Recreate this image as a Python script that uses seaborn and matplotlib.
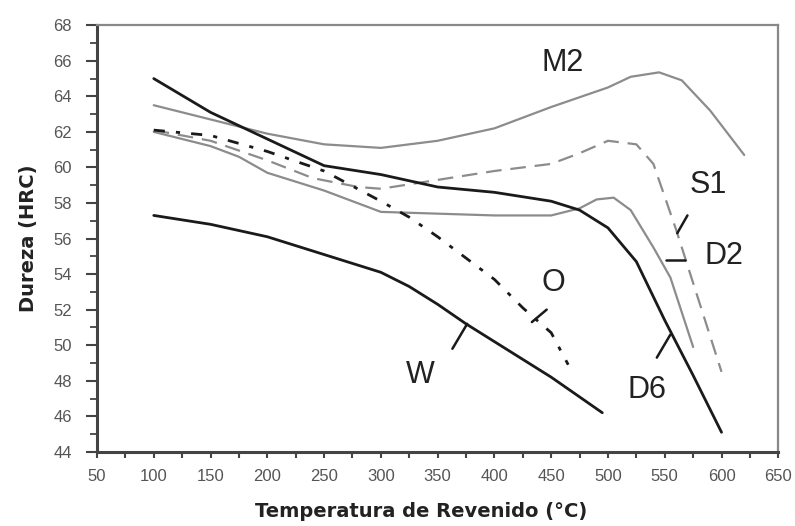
import numpy as np
import pandas as pd
import matplotlib
matplotlib.use("Agg")
import matplotlib.pyplot as plt
import seaborn as sns
from matplotlib.ticker import MultipleLocator

# Curvas de revenido (temperatura °C, dureza HRC)
m2_t = [100, 150, 200, 250, 300, 350, 400, 450, 500, 520, 545, 565, 590, 620]
m2_h = [63.5, 62.7, 61.9, 61.3, 61.1, 61.5, 62.2, 63.4, 64.5, 65.1, 65.35, 64.9, 63.2, 60.7]

s1_t = [100, 150, 200, 240, 280, 300, 350, 400, 450, 475, 500, 525, 540, 560, 575, 600]
s1_h = [62.1, 61.5, 60.4, 59.4, 58.9, 58.8, 59.3, 59.8, 60.2, 60.8, 61.5, 61.3, 60.2, 56.5, 53.5, 48.5]

d2_t = [100, 150, 175, 200, 250, 300, 350, 400, 450, 475, 490, 505, 520, 540, 555, 575]
d2_h = [62.0, 61.2, 60.6, 59.7, 58.7, 57.5, 57.4, 57.3, 57.3, 57.7, 58.2, 58.3, 57.6, 55.5, 53.8, 49.9]

d6_t = [100, 150, 200, 250, 300, 350, 400, 450, 475, 500, 525, 550, 575, 600]
d6_h = [65.0, 63.1, 61.6, 60.1, 59.6, 58.9, 58.6, 58.1, 57.6, 56.6, 54.7, 51.4, 48.3, 45.1]

o_t = [100, 150, 200, 250, 300, 325, 350, 375, 400, 425, 450, 465]
o_h = [62.1, 61.8, 60.9, 59.8, 58.1, 57.2, 56.1, 54.9, 53.7, 52.1, 50.7, 48.9]

w_t = [100, 150, 200, 250, 300, 325, 350, 375, 400, 450, 495]
w_h = [57.3, 56.8, 56.1, 55.1, 54.1, 53.3, 52.3, 51.2, 50.2, 48.2, 46.2]

x_ticks = list(range(50, 651, 50))
y_ticks = list(range(44, 69, 2))

sns.set_style("ticks")
plt.rcParams['font.family'] = ['Liberation Sans', 'DejaVu Sans']

fig, ax = plt.subplots(figsize=(7.95, 5.26), dpi=100)
fig.subplots_adjust(left=0.122, right=0.979, top=0.952, bottom=0.141)

gray = "#8c8c8c"
sns.lineplot(x=m2_t, y=m2_h, ax=ax, color=gray, lw=1.6)
sns.lineplot(x=s1_t, y=s1_h, ax=ax, color=gray, lw=1.6, linestyle=(0, (7, 4)))
sns.lineplot(x=d2_t, y=d2_h, ax=ax, color=gray, lw=1.6)
sns.lineplot(x=d6_t, y=d6_h, ax=ax, color="#1a1a1a", lw=2.0)
sns.lineplot(x=o_t, y=o_h, ax=ax, color="#1a1a1a", lw=2.0, linestyle=(0, (4, 4, 1.5, 4)))
sns.lineplot(x=w_t, y=w_h, ax=ax, color="#1a1a1a", lw=2.0)

# etiquetas de cada acero y sus lineas guia
lab = dict(fontsize=22, color="#222222", ha="center", va="center")
ax.text(460, 65.9, "M2", **lab)
ax.text(588, 59.0, "S1", **lab)
ax.text(602, 55.0, "D2", **lab)
ax.text(534, 47.5, "D6", **lab)
ax.text(452, 53.5, "O", **lab)
ax.text(335, 48.3, "W", **lab)

guia = dict(color="#1a1a1a", lw=1.8)
ax.plot([561, 570], [56.3, 57.3], **guia)
ax.plot([551, 568], [54.8, 54.8], **guia)
ax.plot([543, 555], [49.3, 50.6], **guia)
ax.plot([433, 446], [51.3, 52.0], **guia)
ax.plot([363, 376], [49.8, 51.2], **guia)

ax.set_xlim(50, 650)
ax.set_ylim(44, 68)
ax.set_xticks(x_ticks)
ax.set_yticks(y_ticks)
ax.xaxis.set_minor_locator(MultipleLocator(25))
ax.yaxis.set_minor_locator(MultipleLocator(1))
ax.tick_params(axis="y", which="major", length=8, width=1.5, color="#444444",
               labelsize=12, labelcolor="#555555", pad=10)
ax.tick_params(axis="y", which="minor", length=5, width=1.3, color="#444444")
ax.tick_params(axis="x", which="both", length=4, width=1.5, color="#444444",
               labelsize=12, labelcolor="#555555", pad=8)

for side in ["left", "bottom"]:
    ax.spines[side].set_color("#444444")
    ax.spines[side].set_linewidth(2.2)
for side in ["top", "right"]:
    ax.spines[side].set_color("#888888")
    ax.spines[side].set_linewidth(1.6)

ax.set_xlabel("Temperatura de Revenido (°C)", fontsize=14, fontweight="bold",
              family="DejaVu Sans", color="#222222", labelpad=13)
ax.xaxis.label.set_x(0.476)
ax.set_ylabel("Dureza (HRC)", fontsize=14, fontweight="bold", family="DejaVu Sans",
              color="#222222", labelpad=11)

fig.savefig("out.png", dpi=100)
